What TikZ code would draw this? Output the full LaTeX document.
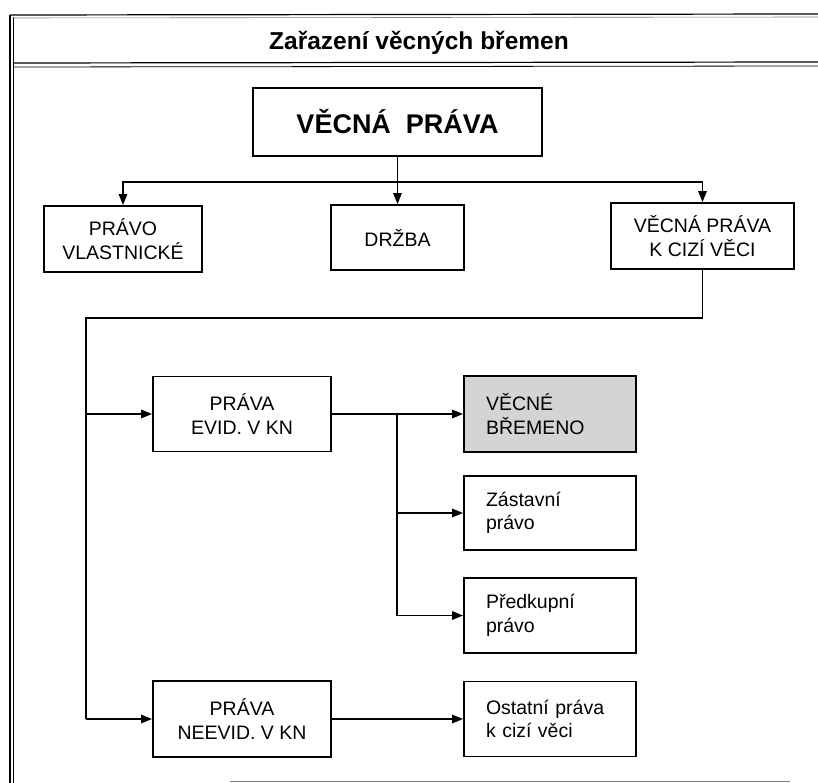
\documentclass[tikz,border=0pt]{standalone}
\usepackage{fontspec}
\setmainfont{Liberation Sans}
\usetikzlibrary{arrows.meta}
\begin{document}
\begin{tikzpicture}[x=1pt,y=-1pt,
  box/.style={draw,line width=1.9pt,rectangle,align=center,font=\fontsize{19.5}{23.5}\selectfont,inner sep=0pt},
  lbox/.style={box,align=left,text width=128pt,inner xsep=22pt},
  conn/.style={line width=1.6pt},
  arr/.style={conn,-{Triangle[length=11pt,width=8.5pt]}},
  frame/.style={line width=1.2pt}]
\useasboundingbox (0,0) rectangle (818,783);
% frame
\draw[frame] (10,15) -- (10,783);
\draw[frame,line width=0.8pt] (13,17) -- (13,783);
\draw[frame] (10,15) -- (818,14);
\draw[frame,line width=0.6pt,gray] (13,18) -- (818,17);
\draw[frame] (13,63) -- (818,62);
\draw[frame,line width=0.8pt] (13,67) -- (818,66);
\draw[line width=0.8pt,gray] (230,781) -- (790,781);
\node[font=\fontsize{24.5}{28}\selectfont\bfseries] (title) at (419,43) {Zařazení věcných břemen};
% nodes
\node[box,line width=2.6pt,minimum width=289pt,minimum height=68pt,font=\fontsize{27}{32}\selectfont\bfseries] (top) at (397.5,122) {VĚCNÁ\ \ PRÁVA};
\node[box,minimum width=158pt,minimum height=66pt] (pv) at (123,239) {PRÁVO\\VLASTNICKÉ};
\node[box,minimum width=133pt,minimum height=65pt] (drz) at (397.5,237.5) {DRŽBA};
\node[box,minimum width=183pt,minimum height=66pt] (vpc) at (702.5,236) {VĚCNÁ PRÁVA\\K CIZÍ VĚCI};
\node[box,minimum width=178pt,minimum height=75pt] (evid) at (242,414) {PRÁVA\\EVID. V KN};
\node[lbox,fill=black!17,minimum height=76pt] (vb) at (550,414) {VĚCNÉ\\BŘEMENO};
\node[lbox,minimum height=74pt] (zas) at (550,513) {Zástavní\\právo};
\node[lbox,minimum height=75pt] (pred) at (550,615.5) {Předkupní\\právo};
\node[box,minimum width=178pt,minimum height=76pt] (neevid) at (242,719) {PRÁVA\\NEEVID. V KN};
\node[lbox,minimum height=75pt] (ost) at (550,719) {Ostatní práva\\k cizí věci};
% connectors
\coordinate (hb) at (397.5,182);
\draw[arr] (top.south) -- (drz.north);
\draw[arr] (hb) -| (pv.north);
\draw[arr] (hb) -| (vpc.north);
\coordinate (trunk) at (86,318);
\draw[conn] (vpc.south) |- (trunk) -- (trunk |- neevid.west);
\draw[arr] (trunk |- evid.west) -- (evid.west);
\draw[arr] (trunk |- neevid.west) -- (neevid.west);
\draw[arr] (evid.east) -- (vb.west);
\coordinate (br) at (397,414);
\draw[conn] (br) -- (br |- pred.west);
\draw[arr] (br |- zas.west) -- (zas.west);
\draw[arr] (br |- pred.west) -- (pred.west);
\draw[arr] (neevid.east) -- (ost.west);
\end{tikzpicture}
\end{document}
